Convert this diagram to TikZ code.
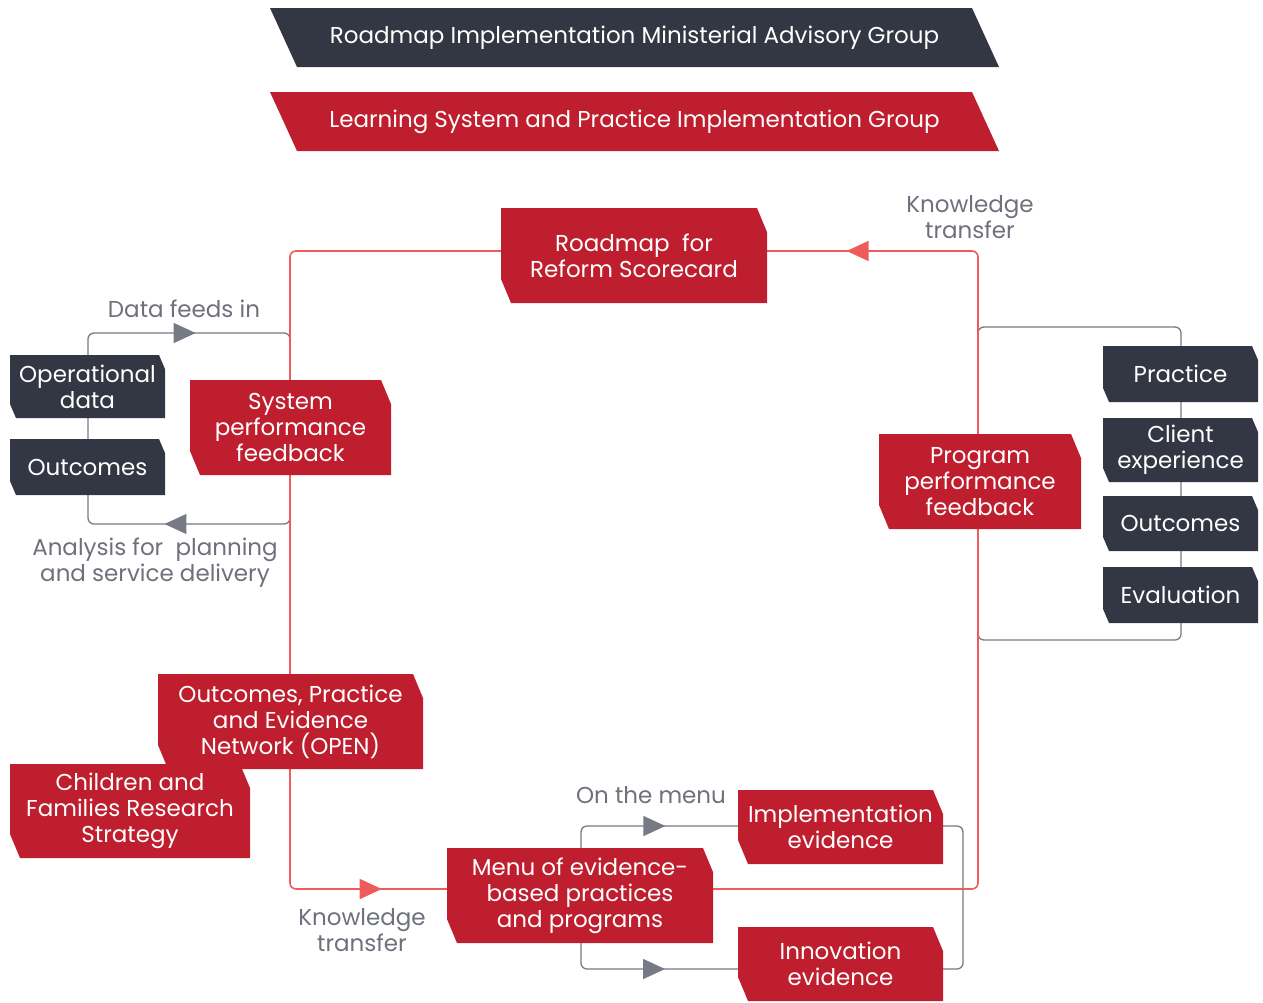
\documentclass[tikz,border=0pt]{standalone}
\usepackage{fontspec}
\setmainfont{Poppins}
\usetikzlibrary{
arrows.meta,
positioning,
calc,
decorations.markings
}
\definecolor{RMNavy}{HTML}{333743}
\definecolor{RMRed}{HTML}{BE1E2D}
\definecolor{RMPink}{HTML}{EF5B5B}
\definecolor{RMGray}{HTML}{767A85}
\definecolor{RMText}{HTML}{6E717B}
\newcommand{\rmfont}{\fontsize{11.5}{13}\selectfont}
\tikzset{
notched/.style n args={3}{inner sep=0pt, align=center, text=white, font=\rmfont,
  path picture={\fill[#1] (path picture bounding box.north west)
    -- ([xshift=-#2]path picture bounding box.north east)
    -- ([yshift=-#3]path picture bounding box.north east)
    -- (path picture bounding box.south east)
    -- ([xshift=#2]path picture bounding box.south west)
    -- ([yshift=#3]path picture bounding box.south west) -- cycle;}},
rmred/.style={notched={RMRed}{5pt}{12pt}},
rmnavy/.style={notched={RMNavy}{3pt}{7pt}},
banner/.style={inner sep=0pt, text=white, font=\rmfont,
  minimum width=364.5pt, minimum height=29.5pt,
  path picture={\fill[#1] (path picture bounding box.north west)
    -- ([xshift=-13.5pt]path picture bounding box.north east)
    -- (path picture bounding box.south east)
    -- ([xshift=13.5pt]path picture bounding box.south west) -- cycle;}},
rmlabel/.style={text=RMText, align=center, font=\rmfont, inner sep=0pt},
pinkline/.style={draw=RMPink, line width=0.8pt, rounded corners=3pt},
grayline/.style={draw=RMGray, line width=0.65pt, rounded corners=3pt},
tipsat/.style n args={3}{postaction={decorate}, decoration={markings,
  mark=at position #2 with {\arrow[#1]{Triangle[length=11pt,width=10pt]}},
  mark=at position #3 with {\arrow[#1]{Triangle[length=11pt,width=10pt]}}}},
tipat/.style 2 args={postaction={decorate}, decoration={markings,
  mark=at position #2 with {\arrow[#1]{Triangle[length=11pt,width=10pt]}}}}
}
\begin{document}
\begin{tikzpicture}[x=0.5pt, y=-0.5pt]
\useasboundingbox (0,0) rectangle (1263,1002);

% governance banners
\node[banner=RMNavy] (advisory) at (634.5,37.5) {Roadmap Implementation Ministerial Advisory Group};
\node[banner=RMRed] (lsgroup) at (634.5,121.5) {Learning System and Practice Implementation Group};

% loop corners
\coordinate (lgBL) at (88,524);
\coordinate (lgTL) at (88,333);
\coordinate (lgTR) at (290,333);
\coordinate (lgBR) at (290,524);
\coordinate (rgTL) at (978,327);
\coordinate (rgTR) at (1181,327);
\coordinate (rgBR) at (1181,640);
\coordinate (rgBL) at (978,640);
\coordinate (pkTL) at (290,251);
\coordinate (pkBL) at (290,889);
\coordinate (pkBR) at (978,889);
\coordinate (pkTR) at (978,251);
\coordinate (mnMid) at (581,895);
\coordinate (mnTL) at (581,826);
\coordinate (mnTR) at (963,826);
\coordinate (mnBL) at (581,969);
\coordinate (mnBR) at (963,969);
\coordinate (mnRight) at (963,900);

\draw[grayline, tipsat={RMGray}{0.374}{0.897}] (lgBL) -- (lgTL) -- (lgTR) -- (lgBR) -- cycle;
\draw[grayline] (rgTL) -- (rgTR) -- (rgBR) -- (rgBL) -- cycle;
\draw[grayline, tipat={RMGray}{0.29}] (mnMid) -- (mnTL) -- (mnTR) -- (mnRight);
\draw[grayline, tipat={RMGray}{0.299}] (mnMid) -- (mnBL) -- (mnBR) -- (mnRight);
\draw[pinkline, tipsat={RMPink}{0.273}{0.788}] (pkTL) -- (pkBL) -- (pkBR) -- (pkTR) -- cycle;

% red boxes
\node[rmred, minimum width=133pt, minimum height=47.5pt] (scorecard) at (634,255.5) {Roadmap\ \ for\\Reform Scorecard};
\node[rmred, minimum width=100.5pt, minimum height=47.5pt] (sysperf) at (290.5,427.5) {System\\performance\\feedback};
\node[rmred, minimum width=101pt, minimum height=47.5pt] (progperf) at (980,481.5) {Program\\performance\\feedback};
\node[rmred, minimum width=132.5pt, minimum height=47.5pt] (open) at (290.5,721.5) {Outcomes, Practice\\and Evidence\\Network (OPEN)};
\node[rmred, minimum width=120pt, minimum height=47pt] (research) at (130,811) {Children and\\Families Research\\Strategy};
\node[rmred, minimum width=133pt, minimum height=47.5pt] (menu) at (580,895.5) {Menu of evidence-\\based practices\\and programs};
\node[rmred, minimum width=102.5pt, minimum height=37pt] (impl) at (840.5,827) {Implementation\\evidence};
\node[rmred, minimum width=102.5pt, minimum height=37pt] (innov) at (840.5,964) {Innovation\\evidence};

% navy boxes
\node[rmnavy, minimum width=77.5pt, minimum height=31.5pt] (opdata) at (87.5,386.5) {Operational\\data};
\node[rmnavy, minimum width=77.5pt, minimum height=28pt] (outleft) at (87.5,467) {Outcomes};
\node[rmnavy, minimum width=77.5pt, minimum height=28pt] (practice) at (1180.5,374) {Practice};
\node[rmnavy, minimum width=77.5pt, minimum height=32pt] (client) at (1180.5,450) {Client\\experience};
\node[rmnavy, minimum width=77.5pt, minimum height=27.5pt] (outright) at (1180.5,523.5) {Outcomes};
\node[rmnavy, minimum width=77.5pt, minimum height=28pt] (evaluation) at (1180.5,595) {Evaluation};

% flow labels
\node[rmlabel] (ktop) at (970,217) {Knowledge\\transfer};
\node[rmlabel] (feeds) at (184,309) {Data feeds in};
\node[rmlabel] (analysis) at (155,563) {Analysis for\ \ planning\\and service delivery};
\node[rmlabel] (onmenu) at (651,795) {On the menu};
\node[rmlabel] (kbottom) at (362,930) {Knowledge\\transfer};
\end{tikzpicture}
\end{document}
